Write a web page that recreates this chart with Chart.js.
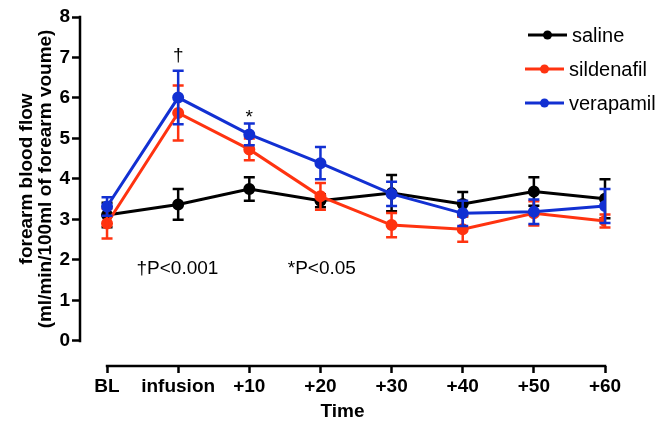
<!DOCTYPE html>
<html>
<head>
	<meta charset="utf-8">
	<title>Forearm blood flow</title>
	<script src="https://cdn.jsdelivr.net/npm/chart.js@4/dist/chart.umd.min.js"></script>
	<style>
		body { margin: 0; background: #fff; }
		#wrap { width: 660px; height: 425px; }
	</style>
</head>
<body>

	<div id="wrap"><canvas id="mychart" width="660" height="425"></canvas></div>

	<script type="text/javascript">

		// time points
		const timeLabels = ['BL', 'infusion', '+10', '+20', '+30', '+40', '+50', '+60'];
		const yTicks = [0, 1, 2, 3, 4, 5, 6, 7, 8];
		const yTitle = ['forearm blood flow', '(ml/min/100ml of forearm voume)'];

		// means
		const saline     = [3.11, 3.37, 3.75, 3.46, 3.65, 3.38, 3.69, 3.51];
		const sildenafil = [2.90, 5.63, 4.73, 3.57, 2.86, 2.76, 3.15, 2.96];
		const verapamil  = [3.32, 6.01, 5.10, 4.39, 3.63, 3.15, 3.19, 3.33];

		// error bars (+/-)
		const salineErr     = [0.30, 0.38, 0.29, 0.16, 0.45, 0.30, 0.35, 0.48];
		const sildenafilErr = [0.37, 0.68, 0.27, 0.33, 0.30, 0.31, 0.30, 0.16];
		const verapamilErr  = [0.23, 0.66, 0.27, 0.40, 0.30, 0.31, 0.30, 0.42];

		// significance marks
		const marks = [
			{ text: '\u2020', x: 1, y: 7.04 },
			{ text: '*', x: 2, y: 5.52 },
			{ text: '\u2020P<0.001', x: 0.99, y: 1.77 },
			{ text: '*P<0.05', x: 3.02, y: 1.77 }
		];

		const FONT = '"Liberation Sans", Arial, sans-serif';
		const BLACK = '#000000';
		const RED = '#ff3310';
		const BLUE = '#1230d2';

		function pts(arr) {
			return arr.map((v, i) => ({ x: i, y: v }));
		}

		function series(label, data, err, color, order) {
			return {
				label: label,
				data: pts(data),
				err: err,
				borderColor: color,
				backgroundColor: color,
				pointBackgroundColor: color,
				pointBorderColor: color,
				pointRadius: 4.5,
				borderWidth: 3,
				tension: 0,
				order: order
			};
		}

		const errorBars = {
			id: 'errorBars',
			afterDatasetDraw(chart, args) {
				const ds = chart.data.datasets[args.index];
				const meta = args.meta;
				const ctx = chart.ctx;
				const ys = chart.scales.y;
				ctx.save();
				ctx.strokeStyle = ds.borderColor;
				ctx.lineWidth = 2.5;
				meta.data.forEach((pt, i) => {
					const v = ds.data[i].y;
					const e = ds.err[i];
					const top = ys.getPixelForValue(v + e);
					const bot = ys.getPixelForValue(v - e);
					ctx.beginPath();
					ctx.moveTo(pt.x, top);
					ctx.lineTo(pt.x, bot);
					ctx.moveTo(pt.x - 5.5, top);
					ctx.lineTo(pt.x + 5.5, top);
					ctx.moveTo(pt.x - 5.5, bot);
					ctx.lineTo(pt.x + 5.5, bot);
					ctx.stroke();
				});
				ctx.restore();
			}
		};

		const axisLines = {
			id: 'axisLines',
			afterDraw(chart) {
				const ctx = chart.ctx;
				const xs = chart.scales.x;
				const ys = chart.scales.y;
				const y0 = ys.getPixelForValue(yTicks[0]);
				const y8 = ys.getPixelForValue(yTicks[yTicks.length - 1]);
				ctx.save();
				ctx.strokeStyle = BLACK;
				ctx.lineWidth = 2.5;
				ctx.beginPath();
				// y axis from 0 to 8
				ctx.moveTo(chart.chartArea.left, y0 + 1.25);
				ctx.lineTo(chart.chartArea.left, y8 - 1.25);
				// x axis from BL to +60
				ctx.moveTo(xs.getPixelForValue(0) - 1.25, chart.chartArea.bottom);
				ctx.lineTo(xs.getPixelForValue(timeLabels.length - 1) + 1.25, chart.chartArea.bottom);
				ctx.stroke();

				// y axis title, centred on 0..8
				ctx.fillStyle = BLACK;
				ctx.font = 'bold 19px ' + FONT;
				ctx.textAlign = 'center';
				ctx.textBaseline = 'middle';
				ctx.save();
				ctx.translate(27, (y0 + y8) / 2);
				ctx.rotate(-Math.PI / 2);
				yTitle.forEach((t, i) => ctx.fillText(t, 0, i * 19));
				ctx.restore();

				// annotations
				ctx.font = '19px ' + FONT;
				marks.forEach(m => {
					ctx.fillText(m.text, xs.getPixelForValue(m.x), ys.getPixelForValue(m.y));
				});

				// legend
				ctx.textAlign = 'left';
				ctx.font = '20px ' + FONT;
				const legendY = [35, 69, 103];
				const legendX = [528, 525, 525];
				chart.data.datasets.forEach((ds, i) => {
					const y = legendY[i];
					const x = legendX[i];
					ctx.strokeStyle = ds.borderColor;
					ctx.fillStyle = ds.borderColor;
					ctx.lineWidth = 3;
					ctx.beginPath();
					ctx.moveTo(x, y);
					ctx.lineTo(x + 39, y);
					ctx.stroke();
					ctx.beginPath();
					ctx.arc(x + 19.5, y, 4.5, 0, Math.PI * 2);
					ctx.fill();
					ctx.fillStyle = BLACK;
					ctx.fillText(ds.label, x + 44, y + 1);
				});
				ctx.restore();
			}
		};

		const ctx = document.getElementById('mychart').getContext('2d');

		const myChart = new Chart(ctx, {
			type: 'line',
			data: {
				datasets: [
					series('saline', saline, salineErr, BLACK, 3),
					series('sildenafil', sildenafil, sildenafilErr, RED, 2),
					series('verapamil', verapamil, verapamilErr, BLUE, 1)
				]
			},
			options: {
				responsive: false,
				animation: false,
				layout: { padding: { top: 17, right: 55, left: 0, bottom: 0 } },
				plugins: {
					legend: { display: false },
					tooltip: { enabled: false }
				},
				scales: {
					x: {
						type: 'linear',
						min: -0.38,
						max: 7,
						afterBuildTicks: s => { s.ticks = timeLabels.map((t, i) => ({ value: i })); },
						afterFit: s => { s.height = 59; },
						border: { display: false },
						grid: {
							drawOnChartArea: false,
							drawTicks: true,
							tickLength: 7,
							tickWidth: 2.5,
							tickColor: BLACK
						},
						ticks: {
							color: BLACK,
							padding: 2,
							maxRotation: 0,
							autoSkip: false,
							font: { family: FONT, size: 19, weight: 'bold' },
							callback: v => timeLabels[v]
						},
						title: {
							display: true,
							text: 'Time',
							color: BLACK,
							padding: { top: 0, bottom: 2 },
							font: { family: FONT, size: 19, weight: 'bold' }
						}
					},
					y: {
						min: -0.62,
						max: 8,
						afterBuildTicks: s => { s.ticks = yTicks.map(v => ({ value: v })); },
						afterFit: s => { s.width = 80; },
						border: { display: false },
						grid: {
							drawOnChartArea: false,
							drawTicks: true,
							tickLength: 8,
							tickWidth: 2.5,
							tickColor: BLACK
						},
						ticks: {
							color: BLACK,
							padding: 2,
							font: { family: FONT, size: 19, weight: 'bold' }
						}
					}
				}
			},
			plugins: [errorBars, axisLines]
		});

	</script>

</body>
</html>
